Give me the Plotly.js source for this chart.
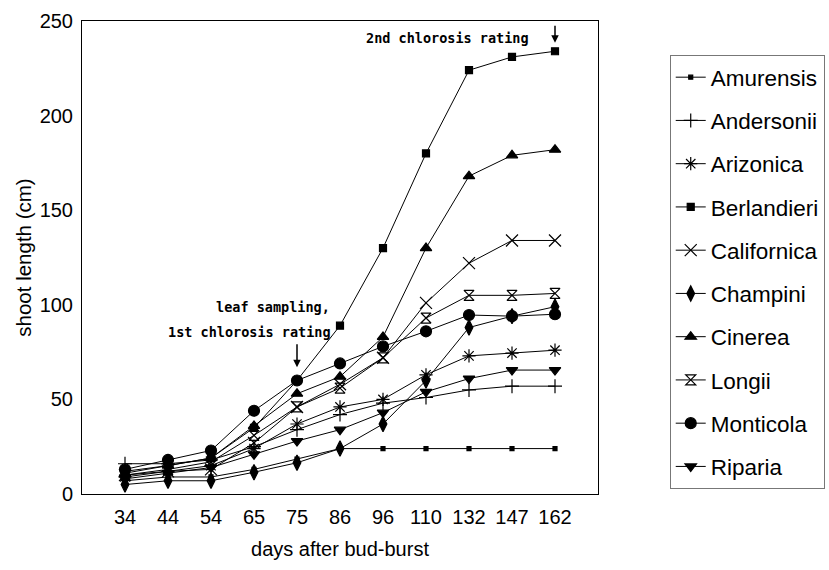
<!DOCTYPE html>
<html>
<head>
<meta charset="utf-8">
<script src="https://cdn.plot.ly/plotly-3.0.1.min.js"></script>
<style>html,body{margin:0;padding:0;background:#fff;}#chart{width:829px;height:570px;}</style>
</head>
<body>
<div id="chart"></div>
<script>
var days = ["34","44","54","65","75","86","96","110","132","147","162"];
var amurensis   = [7, 9, 9, 13, 18.5, 24, 24, 24, 24, 24, 24];
var andersonii  = [16, 16, 18, 25, 34, 42, 48, 51, 55, 57, 57];
var arizonica   = [9, 12, 15, 24, 37, 46, 50, 63, 73, 74.5, 76];
var berlandieri = [12, 15, 19, 35, 60, 89, 130, 180, 224, 231, 234];
var californica = [10, 12, 13, 27, 46, 58, 72, 101, 122, 134, 134];
var champini    = [5, 7, 7, 11.5, 16.5, 24, 37, 60, 88, 94, 99];
var cinerea     = [11, 15, 19, 36, 53, 62, 83, 130, 168, 179, 182];
var longii      = [10, 13, 17, 31, 46, 56, 72, 93, 105, 105, 106];
var monticola   = [13, 18, 23, 44, 60, 69, 78, 86, 94.6, 94, 95];
var riparia     = [8, 11, 14, 21, 28, 34, 43, 54, 61, 65.5, 65.5];

var seriesNames = ["Amurensis","Andersonii","Arizonica","Berlandieri","Californica","Champini","Cinerea","Longii","Monticola","Riparia"];
var seriesData = [amurensis, andersonii, arizonica, berlandieri, californica, champini, cinerea, longii, monticola, riparia];
var symbols = ["square","cross-thin-open","asterisk-open","square","x-thin-open","diamond-tall","triangle-up","hourglass-open","circle","triangle-down"];
var sizes = [4, 10, 11, 7, 12, 11, 10, 10, 11, 10];

var traces = seriesNames.map(function(n, i){
  return {
    x: days, y: seriesData[i], name: n, type: "scatter", mode: "lines+markers",
    legendgroup: n,
    line: {color: "#000", width: 1},
    marker: {symbol: symbols[i], size: sizes[i], color: "#000", line: {color: "#000", width: 1.2}}
  };
});

var annFont = {family: "DejaVu Sans Mono", size: 13.5, color: "#000", weight: "bold"};
var layout = {
  width: 829, height: 570,
  margin: {l: 82, r: 231, t: 21, b: 76, autoexpand: false},
  paper_bgcolor: "#fff", plot_bgcolor: "#fff",
  font: {family: "Liberation Sans, Arial, sans-serif", size: 20, color: "#000"},
  showlegend: true,
  legend: {
    x: 1.139, xanchor: "left", y: 0.928, yanchor: "top",
    bordercolor: "#777", borderwidth: 1,
    font: {size: 22.5, color: "#000"},
    tracegroupgap: 11, itemwidth: 30, entrywidth: 180
  },
  xaxis: {
    type: "category", range: [-1, 11],
    showline: true, linecolor: "#000", linewidth: 1, mirror: true,
    showgrid: false, zeroline: false, ticks: "",
    ticklabelstandoff: 5,
    title: {text: "days after bud-burst", font: {size: 20}, standoff: 14}
  },
  yaxis: {
    range: [0, 250], tickvals: [0, 50, 100, 150, 200, 250],
    showline: true, linecolor: "#000", linewidth: 1, mirror: true,
    showgrid: false, zeroline: false, ticks: "",
    ticklabelstandoff: 4,
    title: {text: "shoot length (cm)", font: {size: 20.5}, standoff: 2}
  },
  annotations: [
    {x: 4, y: 67, xref: "x", yref: "y", ax: 0, ay: -25, text: " ", font: {size: 1}, showarrow: true, arrowhead: 2, arrowsize: 1, arrowwidth: 1.5, arrowcolor: "#000"},
    {x: 10, y: 238.5, xref: "x", yref: "y", ax: 0, ay: -19, text: " ", font: {size: 1}, showarrow: true, arrowhead: 2, arrowsize: 1, arrowwidth: 1.5, arrowcolor: "#000"},
    {x: 332, y: 307, xref: "paper", yref: "paper", text: "leaf sampling,", showarrow: false, font: annFont},
    {x: 333, y: 332, xref: "paper", yref: "paper", text: "1st chlorosis rating", showarrow: false, font: annFont},
    {x: 531, y: 38, xref: "paper", yref: "paper", text: "2nd chlorosis rating", showarrow: false, font: annFont}
  ]
};
// convert pixel-placed text annotations into paper coordinates
var pw = 829 - 82 - 231, ph = 570 - 21 - 76;
layout.annotations.forEach(function(a){
  if (a.xref === "paper") {
    a.x = (a.x - 82) / pw; a.y = 1 - (a.y - 21) / ph;
    a.xanchor = "right"; a.yanchor = "middle";
  }
});
Plotly.newPlot("chart", traces, layout, {displayModeBar: false, staticPlot: true});
</script>
</body>
</html>
